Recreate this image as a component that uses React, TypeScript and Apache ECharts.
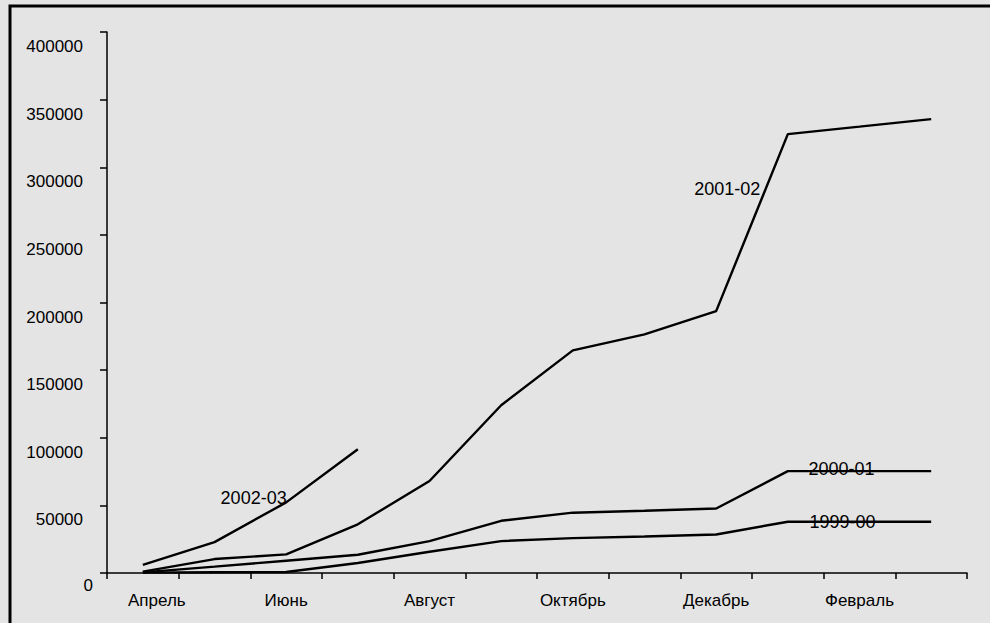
import React, { useEffect, useRef } from "react";
import * as echarts from "echarts";

const months = ["Апрель", "Май", "Июнь", "Июль", "Август", "Сентябрь", "Октябрь", "Ноябрь", "Декабрь", "Январь", "Февраль", "Март"];
const yTicks = [0, 50000, 100000, 150000, 200000, 250000, 300000, 350000, 400000];
const s1999 = [300, 500, 700, 7400, 15700, 23600, 25800, 27000, 28500, 37900, 37900, 37900];
const s2000 = [500, 4700, 9100, 13500, 23600, 38600, 44600, 46000, 47700, 75300, 75300, 75300];
const s2001 = [1000, 10300, 13800, 36000, 68000, 124000, 164600, 176400, 193600, 324500, 330000, 335600];
const s2002 = [6000, 22800, 52200, 91500];

const FONT = "Liberation Sans, Arial, sans-serif";
const labelFont = { fontFamily: FONT, fontSize: 18, color: "#000" };

function withLabel(values: number[], idx: number, text: string, label: any) {
  return values.map((v, i) =>
    i === idx ? { value: v, label: { show: true, formatter: text, ...labelFont, ...label } } : v
  );
}

export default function App() {
  const ref = useRef<HTMLDivElement>(null);
  useEffect(() => {
    document.body.style.margin = "0";
    document.body.style.background = "#e4e4e4";
    const chart = echarts.init(ref.current!, null, { renderer: "svg" });
    const lineSeries = (name: string, data: any[]) => ({
      name,
      type: "line",
      data,
      symbol: "circle",
      symbolSize: 1,
      showSymbol: true,
      itemStyle: { color: "rgba(0,0,0,0)" },
      lineStyle: { color: "#000", width: 2.4 },
      emphasis: { disabled: true },
      silent: true,
    });
    chart.setOption({
      animation: false,
      backgroundColor: "#e4e4e4",
      textStyle: { fontFamily: FONT },
      graphic: [
        {
          type: "rect",
          shape: { x: 10, y: 6, width: 1200, height: 1000 },
          style: { fill: "none", stroke: "#000", lineWidth: 3 },
          z: -1,
        },
      ],
      grid: { left: 107, right: 23, top: 32, bottom: 50 },
      xAxis: {
        type: "category",
        data: months,
        boundaryGap: true,
        axisLine: { lineStyle: { color: "#000", width: 1.5 } },
        axisTick: { show: true, interval: 0, length: 6, lineStyle: { color: "#000", width: 1.5 } },
        axisLabel: {
          interval: 1,
          margin: 19,
          color: "#000",
          fontSize: 17,
          fontFamily: FONT,
          formatter: (v: string, i: number) => (i === 0 ? "{p|" + v + "}" : v),
          rich: {
            p: { fontSize: 17, color: "#000", fontFamily: FONT, padding: [0, 0, 0, 28] },
          },
        },
        splitLine: { show: false },
      },
      yAxis: {
        type: "value",
        min: yTicks[0],
        max: yTicks[yTicks.length - 1],
        interval: yTicks[1] - yTicks[0],
        axisLine: { show: true, lineStyle: { color: "#000", width: 1.5 } },
        axisTick: { show: true, length: 7, lineStyle: { color: "#000", width: 1.5 } },
        splitLine: { show: false },
        axisLabel: {
          margin: 14,
          formatter: (v: number) => (v === 0 ? "{z|0}" : "{a|" + v + "}"),
          rich: {
            a: { fontSize: 17, color: "#000", padding: [29, 10, 0, 0], fontFamily: FONT },
            z: { fontSize: 17, color: "#000", padding: [24, 0, 0, 0], fontFamily: FONT },
          },
        },
      },
      series: [
        lineSeries("1999-00", withLabel(s1999, 10, "1999-00", { position: "inside", offset: [-17, 0] })),
        lineSeries("2000-01", withLabel(s2000, 10, "2000-01", { position: "inside", offset: [-18, -2] })),
        lineSeries("2001-02", withLabel(s2001, 9, "2001-02", { position: "left", distance: 0, offset: [-27, 55] })),
        lineSeries("2002-03", withLabel(s2002, 2, "2002-03", { position: "left", distance: -1, offset: [0, -4] })),
      ],
    });
    return () => chart.dispose();
  }, []);
  return <div ref={ref} style={{ width: 990, height: 623 }} />;
}
